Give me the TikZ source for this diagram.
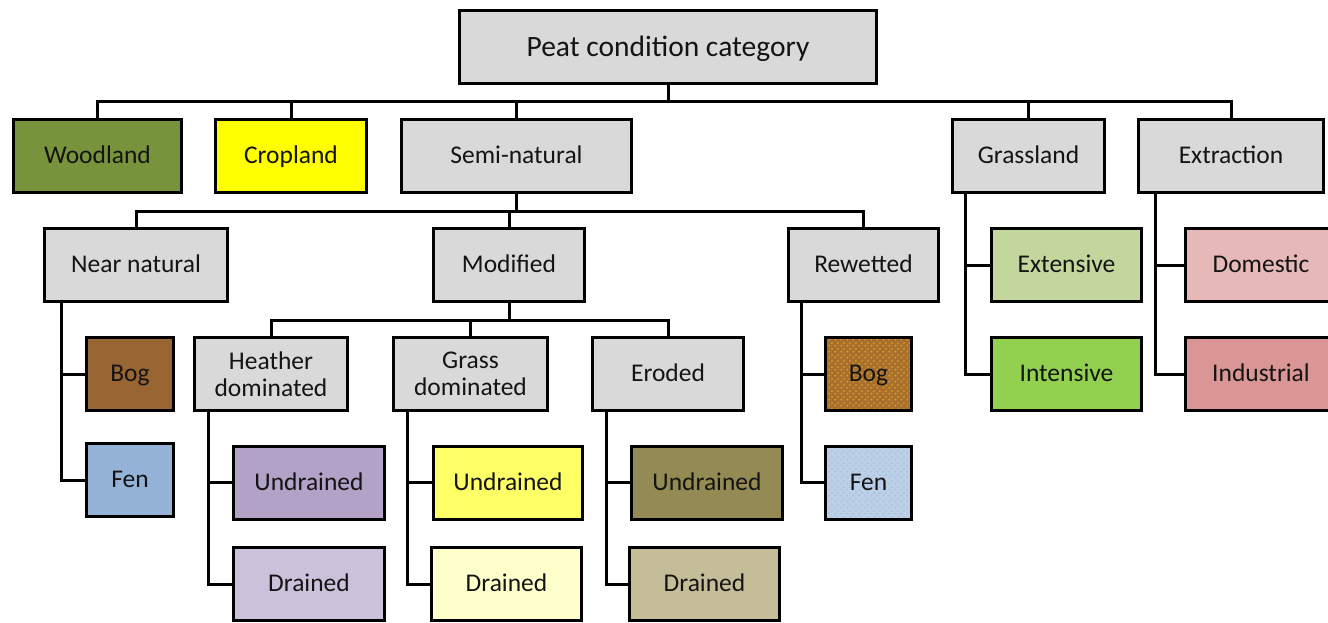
\documentclass[tikz,border=0pt]{standalone}
\usepackage{fontspec}
\setmainfont{Carlito}
\usetikzlibrary{patterns}
\definecolor{boxgray}{HTML}{D9D9D9}
\definecolor{wood}{HTML}{77933C}
\definecolor{crop}{HTML}{FFFF00}
\definecolor{bogc}{HTML}{996633}
\definecolor{fenc}{HTML}{95B3D7}
\definecolor{heatherU}{HTML}{B3A2C7}
\definecolor{heatherD}{HTML}{CCC1DA}
\definecolor{grassU}{HTML}{FFFF66}
\definecolor{grassD}{HTML}{FFFFCC}
\definecolor{erodU}{HTML}{948A54}
\definecolor{erodD}{HTML}{C4BD97}
\definecolor{extc}{HTML}{C3D69B}
\definecolor{intc}{HTML}{92D050}
\definecolor{domc}{HTML}{E6B9B8}
\definecolor{indc}{HTML}{D99694}
\definecolor{rbog}{HTML}{A8702C}
\definecolor{rbogdot}{HTML}{E0A020}
\definecolor{rfen}{HTML}{BCD0E8}
\definecolor{rfendot}{HTML}{A4BCDC}
\definecolor{txt}{HTML}{141414}
\pgfdeclarepatternformonly{bigdots}{\pgfpointorigin}{\pgfpoint{6pt}{6pt}}{\pgfpoint{6pt}{6pt}}{%
  \pgfpathcircle{\pgfpoint{1.5pt}{1.5pt}}{1.1pt}%
  \pgfpathcircle{\pgfpoint{4.5pt}{4.5pt}}{1.1pt}%
  \pgfusepath{fill}}
\begin{document}
\begin{tikzpicture}[x=1pt,y=-1pt,
  box/.style={draw=black,line width=3pt,fill=boxgray,minimum height=73pt,inner sep=0pt,
    text=txt,font=\fontsize{25.5}{28}\selectfont,align=center},
  one/.style={text height=19pt,text depth=4pt},
  dotted box/.style={fill=none,preaction={fill=#1},preaction={pattern=bigdots,pattern color=#1dot}},
  conn/.style={line width=3pt,draw=black}]
\useasboundingbox (0,0) rectangle (1328,622);
\begin{scope}
\clip (0,0) rectangle (1328,622);
% level 0
\node[box,text height=22pt,text depth=4pt,minimum width=417pt,font=\fontsize{29.5}{32}\selectfont] (title) at (668,47) {Peat condition category};
% level 1
\node[box,one,fill=wood,minimum width=168pt] (wood) at (97.5,156) {Woodland};
\node[box,one,fill=crop,minimum width=151pt] (crop) at (291,156) {Cropland};
\node[box,one,minimum width=230pt] (semi) at (516.5,156) {Semi-natural};
\node[box,one,minimum width=152pt] (grass) at (1028.5,156) {Grassland};
\node[box,one,minimum width=185pt] (extr) at (1231,156) {Extraction};
% level 2
\node[box,one,minimum width=183pt] (near) at (136,265) {Near natural};
\node[box,one,minimum width=151pt] (mod) at (509,265) {Modified};
\node[box,one,minimum width=150pt] (rew) at (863.5,265) {Rewetted};
\node[box,one,fill=extc,minimum width=150pt] (ext) at (1066.5,265) {Extensive};
\node[box,one,fill=domc,minimum width=151pt] (dom) at (1261,265) {Domestic};
% level 3
\node[box,one,fill=bogc,minimum width=87pt] (nbog) at (130,374) {Bog};
\node[box,minimum width=153pt,font=\fontsize{25.5}{27}\selectfont] (heath) at (271,374) {Heather\\dominated};
\node[box,minimum width=154pt,font=\fontsize{25.5}{27}\selectfont] (grd) at (470.5,374) {Grass\\dominated};
\node[box,one,minimum width=151pt] (erod) at (668,374) {Eroded};
\node[box,one,dotted box=rbog,minimum width=86pt] (rbog) at (868.5,374) {Bog};
\node[box,one,fill=intc,minimum width=150pt] (int) at (1066.5,374) {Intensive};
\node[box,one,fill=indc,minimum width=151pt] (ind) at (1261,374) {Industrial};
% level 4
\node[box,one,fill=fenc,minimum width=87pt] (nfen) at (130,480) {Fen};
\node[box,one,fill=heatherU,minimum width=151pt] (hu) at (309,482.5) {Undrained};
\node[box,one,fill=grassU,minimum width=149pt] (gu) at (508,482.5) {Undrained};
\node[box,one,fill=erodU,minimum width=151pt] (eu) at (707,482.5) {Undrained};
\node[box,one,dotted box=rfen,minimum width=86pt] (rfen) at (868.5,482.5) {Fen};
% level 5
\node[box,one,fill=heatherD,minimum width=151pt] (hd) at (309,584) {Drained};
\node[box,one,fill=grassD,minimum width=150pt] (gdr) at (506.5,584) {Drained};
\node[box,one,fill=erodD,minimum width=150pt] (ed) at (704.5,584) {Drained};
\end{scope}
% connectors
\coordinate (bus1) at (668,101);
\draw[conn] (title.south) -- (bus1);
\foreach \n in {wood,crop,semi,grass,extr} \draw[conn] (\n.north) |- (bus1);
\coordinate (bus2) at (516.5,211);
\draw[conn] (semi.south) -- (bus2);
\foreach \n in {near,mod,rew} \draw[conn] (\n.north) |- (bus2);
\coordinate (bus3) at (509,320);
\draw[conn] (mod.south) -- (bus3);
\foreach \n in {heath,grd,erod} \draw[conn] (\n.north) |- (bus3);
% side branches
\foreach \p/\dx/\a/\b in {near/18.5/nbog/nfen, heath/15.5/hu/hd, grd/15.5/gu/gdr, erod/15.5/eu/ed, rew/14.5/rbog/rfen, grass/14.5/ext/int, extr/18.5/dom/ind}{
  \draw[conn] ([xshift=\dx pt]\p.south west) |- (\a.west);
  \draw[conn] ([xshift=\dx pt]\p.south west) |- (\b.west);
}
\end{tikzpicture}
\end{document}
